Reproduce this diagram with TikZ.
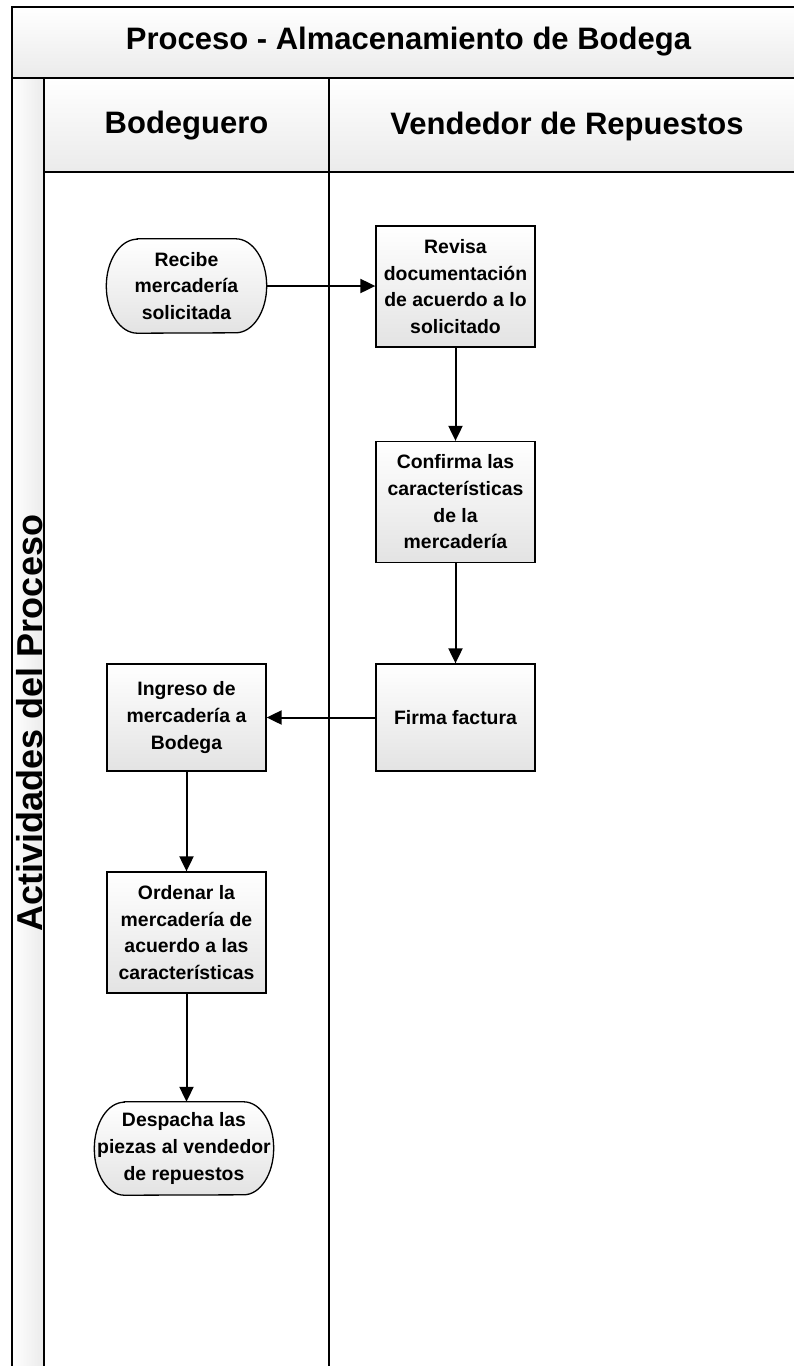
\documentclass[tikz,border=0pt]{standalone}
\usepackage{fontspec}
\setmainfont{Liberation Sans}
\usetikzlibrary{arrows.meta,calc}
\pgfdeclarelayer{bg}
\pgfsetlayers{bg,main}

\begin{document}
\begin{tikzpicture}[x=1pt,y=1pt,
  frame/.style={line width=2pt, draw=black, line cap=rect},
  band/.style={top color=white, bottom color=black!8},
  headtext/.style={font=\bfseries\fontsize{31}{34}\selectfont, inner sep=0pt},
  nodetext/.style={align=center, inner sep=0pt,
    font=\bfseries\fontsize{19.4}{26.7}\selectfont},
  proc/.style={nodetext, draw=black, line width=1.3pt,
    top color=white, bottom color=black!11, minimum width=159pt},
  term/.style={nodetext},
  termshape/.style={draw=black, line width=1.3pt, top color=white, bottom color=black!11},
  flow/.style={line width=2pt, -{Triangle[length=15pt,width=14pt]}},
]
\useasboundingbox (0,0) rectangle (794,-1366);
\clip (0,0) rectangle (794,-1366);

% pool background: title band, lane header band, side strip
\path[band] (12,-7) rectangle (810,-78);
\path[band] (44,-78) rectangle (810,-172);
\path[left color=white, right color=black!8] (12,-78) rectangle (44,-1380);

% pool and lane borders
\draw[frame] (810,-7) -- (12,-7) -- (12,-1380);
\draw[frame] (12,-78) -- (810,-78);
\draw[frame] (44,-78) -- (44,-1380);
\draw[frame] (44,-172) -- (810,-172);
\draw[frame] (329,-78) -- (329,-1380);

% headings
\node[headtext] (title) at (408.5,-42) {Proceso - Almacenamiento de Bodega};
\node[headtext] (laneA) at (186.5,-126) {Bodeguero};
\node[headtext] (laneB) at (567,-126) {Vendedor de Repuestos};
\node[font=\bfseries\fontsize{36}{40}\selectfont, inner sep=0pt, rotate=90]
  (side) at (30,-723) {Actividades del Proceso};

% activities
\node[term, minimum width=160pt, minimum height=94pt] (rec) at (186.5,-286)
  {Recibe\\mercadería\\solicitada};
\node[proc, minimum height=121pt] (rev) at (455.5,-286.5)
  {Revisa\\documentación\\de acuerdo a lo\\solicitado};
\node[proc, minimum height=121pt] (conf) at (455.5,-502)
  {Confirma las\\características\\de la\\mercadería};
\node[proc, minimum height=107pt] (firm) at (455.5,-717.5) {Firma factura};
\node[proc, minimum height=107pt] (ing) at (186.5,-717.5)
  {Ingreso de\\mercadería a\\Bodega};
\node[proc, minimum height=121pt] (ord) at (186.5,-932.5)
  {Ordenar la\\mercadería de\\acuerdo a las\\características};
\node[term, minimum width=179pt, minimum height=93pt] (desp) at (184,-1148.5)
  {Despacha las\\piezas al vendedor\\de repuestos};

% terminator outlines with elliptical ends
\begin{pgfonlayer}{bg}
\path[termshape] ([xshift=31pt]rec.north west) -- ([xshift=-31pt]rec.north east)
  arc[start angle=90, end angle=-90, x radius=31pt, y radius=47pt]
  -- ([xshift=31pt]rec.south west)
  arc[start angle=270, end angle=90, x radius=31pt, y radius=47pt] -- cycle;
\path[termshape] ([xshift=30pt]desp.north west) -- ([xshift=-30pt]desp.north east)
  arc[start angle=90, end angle=-90, x radius=30pt, y radius=46.5pt]
  -- ([xshift=30pt]desp.south west)
  arc[start angle=270, end angle=90, x radius=30pt, y radius=46.5pt] -- cycle;
\end{pgfonlayer}

% flow connectors
\draw[flow] (rec.east) -- (rec.east -| rev.west);
\draw[flow] (rev.south) -- (conf.north);
\draw[flow] (conf.south) -- (firm.north);
\draw[flow] (firm.west) -- (ing.east);
\draw[flow] (ing.south) -- (ord.north);
\draw[flow] (ord.south) -- (ord.south |- desp.north);
\end{tikzpicture}
\end{document}
